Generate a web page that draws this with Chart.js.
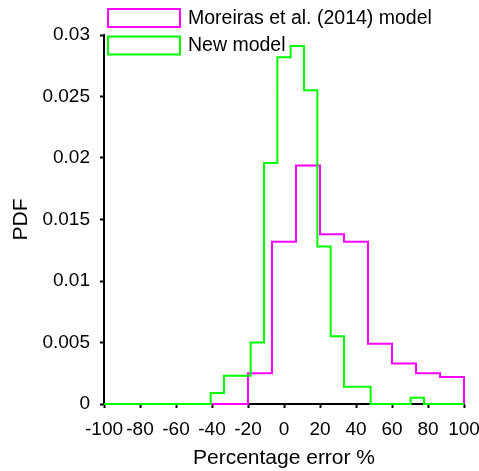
<!DOCTYPE html>
<html>
<head>
<meta charset="utf-8">
<script src="https://cdn.jsdelivr.net/npm/chart.js@4/dist/chart.umd.min.js"></script>
<style>
    html, body { margin: 0; padding: 0; background: #fff; }
    #wrap { width: 479px; height: 471px; position: relative; }
</style>
</head>
<body>
<div id="wrap"><canvas id="chart"></canvas></div>
<script>
// Histogram bin edges and PDF heights.
const seriesLabels = ['Moreiras et al. (2014) model', 'New model'];

const moreirasEdges = [-100, -86.67, -73.33, -60, -46.67, -33.33, -20, -6.67, 6.67, 20, 33.33, 46.67, 60, 73.33, 86.67, 100];
const moreirasPdf = [0, 0, 0, 0, 0, 0, 0.0025, 0.0132, 0.0194, 0.0138, 0.0132, 0.0049, 0.0033, 0.0025, 0.0022];

const newEdges = [-100, -92.59, -85.19, -77.78, -70.37, -62.96, -55.56, -48.15, -40.74, -33.33, -25.93, -18.52, -11.11, -3.70,
    3.70, 11.11, 18.52, 25.93, 33.33, 40.74, 48.15, 55.56, 62.96, 70.37, 77.78, 85.19, 92.59, 100];
const newPdf = [0, 0, 0, 0, 0, 0, 0, 0, 0.0009, 0.0023, 0.0023, 0.005, 0.0196, 0.0282, 0.0291, 0.0255, 0.0128, 0.0055,
    0.0014, 0.0014, 0, 0, 0, 0.0005, 0, 0, 0];

const xTicks = [-100, -80, -60, -40, -20, 0, 20, 40, 60, 80, 100];
const yTicks = [0, 0.005, 0.01, 0.015, 0.02, 0.025, 0.03];
const yTickLabels = ['0', '0.005', '0.01', '0.015', '0.02', '0.025', '0.03'];

const FONT = 'Liberation Sans, Arial, sans-serif';

function toSteps(edges, values) {
    // one point per bin start, then close the outline down to zero at the last edge
    const pts = values.map((v, i) => ({ x: edges[i], y: v }));
    const last = edges[edges.length - 1];
    pts.push({ x: last, y: values[values.length - 1] });
    pts.push({ x: last, y: 0 });
    return pts;
}

const boxLegend = {
    id: 'boxLegend',
    afterDraw(chart) {
        const ctx = chart.ctx;
        const area = chart.chartArea;
        const sets = [...chart.data.datasets].sort((a, b) => a.legendIndex - b.legendIndex);
        ctx.save();
        ctx.font = '19.5px ' + FONT;
        ctx.textBaseline = 'middle';
        ctx.fillStyle = '#000';
        sets.forEach((ds, i) => {
            const top = area.top - 26 + i * 27.5;
            ctx.strokeStyle = ds.borderColor;
            ctx.lineWidth = 2;
            ctx.strokeRect(area.left + 4, top, 72, 18);
            ctx.fillText(ds.label, area.left + 84, top + 9.5);
        });
        ctx.restore();
    }
};

const ctx = document.getElementById('chart');

new Chart(ctx, {
    type: 'line',
    data: {
        datasets: [
            {
                label: seriesLabels[1],
                legendIndex: 1,
                data: toSteps(newEdges, newPdf),
                borderColor: '#00ff00',
                borderWidth: 2,
                stepped: true,
                pointRadius: 0,
                clip: 6,
                order: 1
            },
            {
                label: seriesLabels[0],
                legendIndex: 0,
                data: toSteps(moreirasEdges, moreirasPdf),
                borderColor: '#ff00ff',
                borderWidth: 2,
                stepped: true,
                pointRadius: 0,
                clip: 6,
                order: 2
            }
        ]
    },
    options: {
        responsive: true,
        maintainAspectRatio: false,
        animation: false,
        layout: {
            padding: { top: 35, left: 4, right: 0, bottom: 0 }
        },
        plugins: {
            legend: { display: false },
            tooltip: { enabled: false }
        },
        scales: {
            x: {
                type: 'linear',
                min: -100,
                max: 100,
                afterBuildTicks: (scale) => { scale.ticks = xTicks.map((v) => ({ value: v })); },
                afterFit: (scale) => {
                    scale.height = 67;
                    scale.paddingRight = 15;
                },
                ticks: {
                    color: '#000',
                    font: { family: FONT, size: 19 },
                    padding: 10,
                    maxRotation: 0,
                    autoSkip: false
                },
                grid: { drawOnChartArea: false, tickLength: 4, tickWidth: 2, tickColor: '#000' },
                border: { color: '#000', width: 2 },
                title: {
                    display: true,
                    text: 'Percentage error %',
                    color: '#000',
                    font: { family: FONT, size: 21 },
                    padding: { top: 0, bottom: 0 }
                }
            },
            y: {
                min: 0,
                max: 0.03,
                afterBuildTicks: (scale) => { scale.ticks = yTicks.map((v) => ({ value: v })); },
                afterFit: (scale) => { scale.width = 100; },
                ticks: {
                    color: '#000',
                    font: { family: FONT, size: 19 },
                    padding: 10,
                    callback: (value) => yTickLabels[yTicks.indexOf(value)]
                },
                grid: { drawOnChartArea: false, tickLength: 4, tickWidth: 2, tickColor: '#000' },
                border: { color: '#000', width: 2 },
                title: {
                    display: true,
                    text: 'PDF',
                    color: '#000',
                    font: { family: FONT, size: 21 },
                    padding: { top: 5, bottom: 0 }
                }
            }
        }
    },
    plugins: [boxLegend]
});
</script>
</body>
</html>
